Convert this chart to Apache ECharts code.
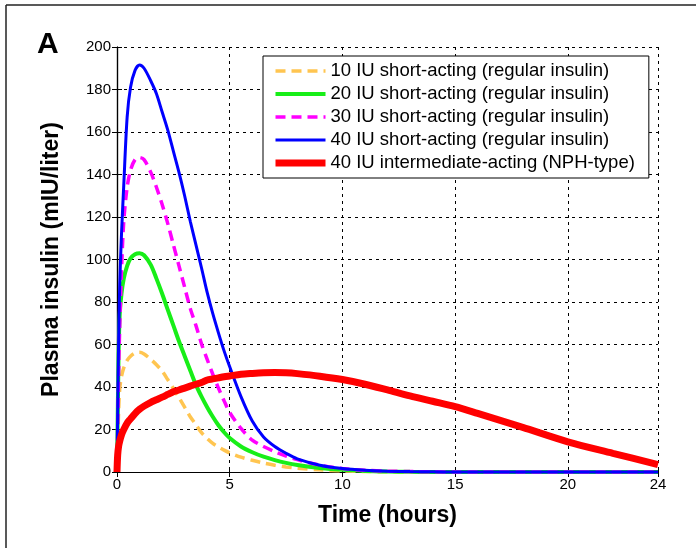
<!DOCTYPE html>
<html>
<head>
<meta charset="utf-8">
<script src="https://cdn.jsdelivr.net/npm/echarts@6/dist/echarts.min.js"></script>
<style>
html,body{margin:0;padding:0;background:#fff;}
#chart{width:696px;height:548px;}
</style>
</head>
<body>
<div id="chart"></div>
<script>
// Time grid (hours)
var timeHours = [0, 0.03, 0.07, 0.12, 0.2, 0.3, 0.45, 0.6, 0.8, 1, 1.2, 1.5, 1.75, 2, 2.25, 2.5, 2.75, 3, 3.25, 3.5, 3.75, 4, 4.25, 4.5, 4.75, 5, 5.5, 6, 6.5, 7, 7.5, 8, 9, 10, 11, 12, 13, 14, 15, 16, 18, 20, 22, 24];

var short10 = [0, 12, 28, 39, 45, 49, 52.5, 54.5, 56, 56.3, 55.5, 53, 50.5, 47.5, 43.5, 39.3, 35, 30.5, 26, 22.3, 18.5, 15.8, 13.5, 11.8, 10.3, 9, 7, 5.5, 4.2, 3.2, 2.4, 1.8, 1, 0.5, 0.25, 0.1, 0, 0, 0, 0, 0, 0, 0, 0];
var short20 = [0, 25, 55, 74, 84, 91, 97, 100.5, 102.5, 103, 102, 97.5, 91, 84, 76.4, 69, 61.5, 54.6, 47.8, 41, 35.5, 30.5, 26, 22, 18.7, 16, 12, 9.3, 7.2, 5.6, 4.3, 3.3, 1.9, 1, 0.5, 0.25, 0.1, 0, 0, 0, 0, 0, 0, 0];
var short30 = [0, 20, 45, 68, 95, 118, 134, 142, 147, 148, 147, 141, 134, 126, 117, 107, 97, 87, 77, 69, 60.3, 53, 46, 39.5, 33.5, 28, 20.5, 15, 12, 9.6, 7.5, 5.8, 3.2, 1.6, 0.8, 0.4, 0.2, 0.1, 0, 0, 0, 0, 0, 0];
var short40 = [0, 28, 60, 88, 112, 135, 167, 181, 189, 191.5, 190, 184, 178, 169.5, 161, 151, 141, 130, 118, 107, 96, 84.5, 74.5, 65.5, 57, 49.5, 35.5, 24, 16.5, 12, 8.8, 6.2, 3.2, 1.6, 0.8, 0.4, 0.2, 0.1, 0, 0, 0, 0, 0, 0];
var nph40 = [0, 8, 12, 14.5, 17.5, 20, 23, 25, 27.5, 29.5, 31, 32.8, 34, 35.2, 36.5, 37.8, 38.6, 39.5, 40.4, 41.3, 42.1, 43.3, 43.8, 44.3, 44.8, 45.2, 46, 46.4, 46.7, 46.8, 46.7, 46.3, 45.1, 43.5, 41.3, 38.6, 35.8, 33.3, 30.8, 27.6, 21, 14.2, 8.8, 3.5];

var seriesNames = [
  '10 IU short-acting (regular insulin)',
  '20 IU short-acting (regular insulin)',
  '30 IU short-acting (regular insulin)',
  '40 IU short-acting (regular insulin)',
  '40 IU intermediate-acting (NPH-type)'
];
var xTickInterval = 5, xMax = 24;
var yTickInterval = 20, yMax = 200;

var FONT = '"Liberation Sans", Arial, Helvetica, sans-serif';

function pairs(vals) {
  return timeHours.map(function (t, i) { return [t, vals[i]]; });
}

var styles = [
  {color: '#FFC550', width: 3.5, type: [10, 6]},
  {color: '#18EE18', width: 4, type: 'solid'},
  {color: '#FF00FF', width: 3.5, type: [10, 6]},
  {color: '#0000FF', width: 3, type: 'solid'},
  {color: '#FF0000', width: 7, type: 'solid'}
];
var dataSets = [short10, short20, short30, short40, nph40];

var series = dataSets.map(function (d, i) {
  return {
    name: seriesNames[i],
    type: 'line',
    xAxisIndex: 0,
    yAxisIndex: 0,
    data: pairs(d),
    showSymbol: false,
    symbol: 'none',
    clip: false,
    smooth: 0.3,
    color: styles[i].color,
    lineStyle: {color: styles[i].color, width: styles[i].width, type: styles[i].type, cap: 'butt'},
    z: 3 + i,
    animation: false
  };
});

var chart = echarts.init(document.getElementById('chart'), null, {renderer: 'canvas'});

var gridLine = {show: true, lineStyle: {color: '#000', type: [3, 4], width: 1}};
var axLine = {show: true, lineStyle: {color: '#000', width: 1.2}};
var tick = {show: true, inside: true, length: 5, lineStyle: {color: '#000', width: 1}};

chart.setOption({
  animation: false,
  backgroundColor: '#fff',
  textStyle: {fontFamily: FONT},
  grid: {left: 117, right: 38, top: 47, bottom: 76, containLabel: false},
  xAxis: [{
    type: 'value', min: 0, max: xMax, interval: xTickInterval,
    position: 'bottom',
    name: 'Time (hours)', nameLocation: 'middle', nameGap: 32,
    nameTextStyle: {fontFamily: FONT, fontSize: 23, fontWeight: 'bold', color: '#000'},
    axisLine: axLine, axisTick: tick, splitLine: gridLine,
    axisLabel: {fontFamily: FONT, fontSize: 15, color: '#000', margin: 5}
  }, {
    type: 'value', min: 0, max: xMax, interval: xTickInterval,
    position: 'top',
    axisLine: axLine, axisTick: tick, splitLine: {show: false},
    axisLabel: {show: false}
  }],
  yAxis: [{
    type: 'value', min: 0, max: yMax, interval: yTickInterval,
    position: 'left',
    name: 'Plasma insulin (mIU/liter)', nameLocation: 'middle', nameGap: 54,
    nameTextStyle: {fontFamily: FONT, fontSize: 23, fontWeight: 'bold', color: '#000'},
    axisLine: axLine, axisTick: tick, splitLine: gridLine,
    axisLabel: {fontFamily: FONT, fontSize: 15, color: '#000', margin: 6}
  }, {
    type: 'value', min: 0, max: yMax, interval: yTickInterval,
    position: 'right',
    axisLine: axLine, axisTick: tick, splitLine: {show: false},
    axisLabel: {show: false}
  }],
  legend: {
    orient: 'vertical',
    left: 263, top: 56,
    padding: [5, 14, 5, 9],
    itemGap: 3,
    itemWidth: 50,
    itemHeight: 14,
    backgroundColor: '#fff',
    borderColor: '#000',
    borderWidth: 1,
    textStyle: {fontFamily: FONT, fontSize: 18.5, color: '#000', lineHeight: 20},
    data: seriesNames.map(function (n, i) {
      return {
        name: n,
        itemStyle: {opacity: 0},
        lineStyle: {width: styles[i].width, type: styles[i].type, color: styles[i].color, opacity: 1}
      };
    }),
    selectedMode: false
  },
  graphic: [
    {type: 'line', shape: {x1: 6, y1: 5, x2: 696, y2: 5}, style: {stroke: '#222', lineWidth: 1.5}},
    {type: 'line', shape: {x1: 6, y1: 5, x2: 6, y2: 548}, style: {stroke: '#222', lineWidth: 1.5}},
    {type: 'text', left: 37, top: 30, style: {text: 'A', fontFamily: FONT, fontSize: 30, fontWeight: 'bold', fill: '#000'}}
  ],
  series: series
});
</script>
</body>
</html>
